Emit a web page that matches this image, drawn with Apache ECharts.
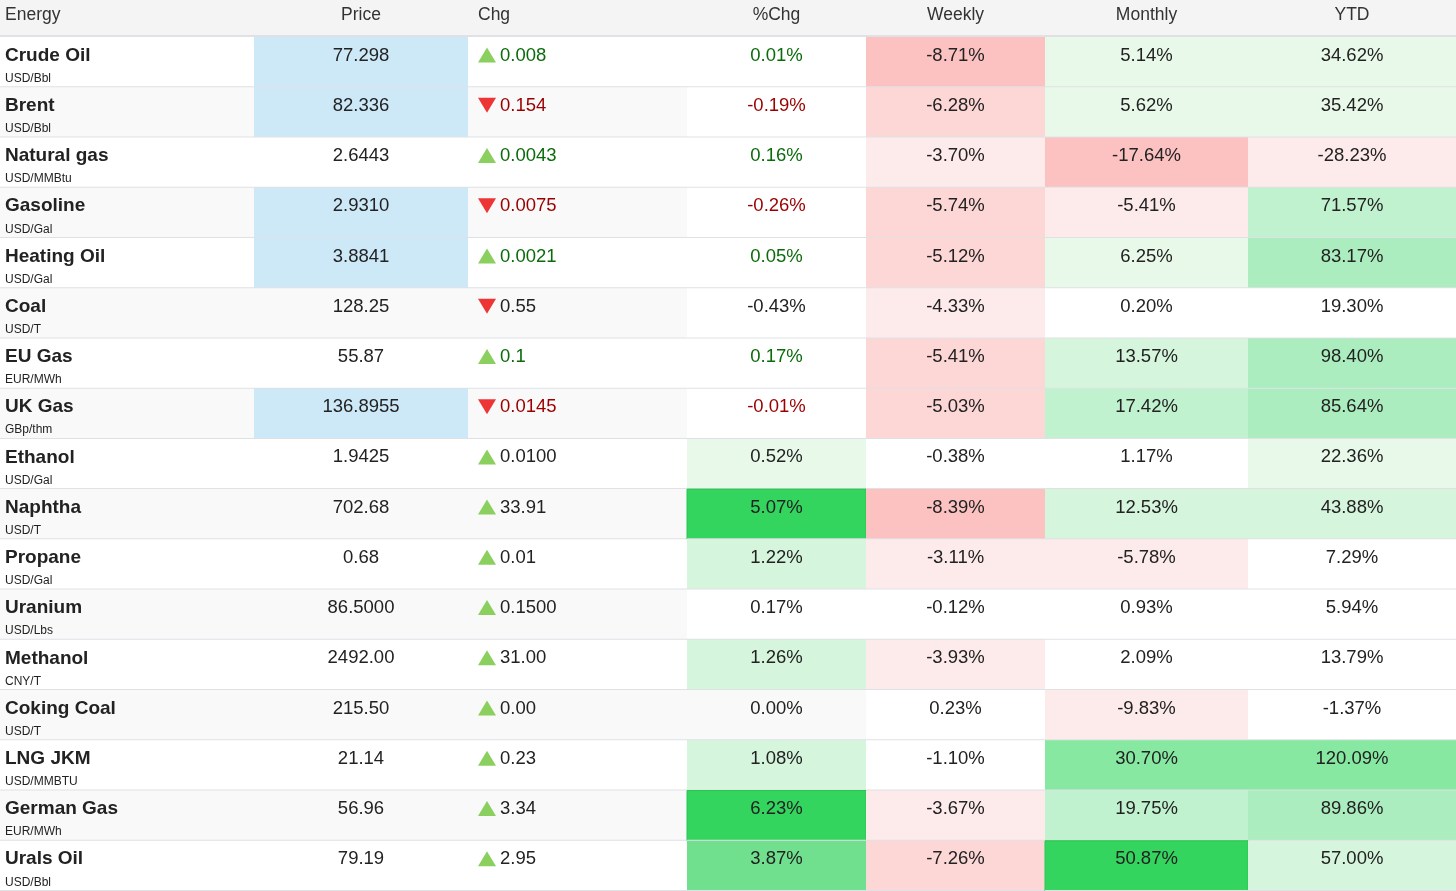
<!DOCTYPE html>
<html>
<head>
<meta charset="utf-8">
<title>Energy</title>
<script src="https://cdn.jsdelivr.net/npm/echarts@6/dist/echarts.min.js"></script>
<style>
  html, body { margin: 0; padding: 0; background: #fff; overflow: hidden; }
  #main { width: 1456px; height: 891px; }
</style>
</head>
<body>
<div id="main"></div>
<script>
// table data
var headers = ['Energy', 'Price', 'Chg', '%Chg', 'Weekly', 'Monthly', 'YTD'];
var names = ['Crude Oil', 'Brent', 'Natural gas', 'Gasoline', 'Heating Oil', 'Coal', 'EU Gas', 'UK Gas',
  'Ethanol', 'Naphtha', 'Propane', 'Uranium', 'Methanol', 'Coking Coal', 'LNG JKM', 'German Gas', 'Urals Oil'];
var units = ['USD/Bbl', 'USD/Bbl', 'USD/MMBtu', 'USD/Gal', 'USD/Gal', 'USD/T', 'EUR/MWh', 'GBp/thm',
  'USD/Gal', 'USD/T', 'USD/Gal', 'USD/Lbs', 'CNY/T', 'USD/T', 'USD/MMBTU', 'EUR/MWh', 'USD/Bbl'];
var prices = ['77.298', '82.336', '2.6443', '2.9310', '3.8841', '128.25', '55.87', '136.8955',
  '1.9425', '702.68', '0.68', '86.5000', '2492.00', '215.50', '21.14', '56.96', '79.19'];
var changes = ['0.008', '-0.154', '0.0043', '-0.0075', '0.0021', '-0.55', '0.1', '-0.0145',
  '0.0100', '33.91', '0.01', '0.1500', '31.00', '0.00', '0.23', '3.34', '2.95'];
var pctChg = [0.01, -0.19, 0.16, -0.26, 0.05, -0.43, 0.17, -0.01,
  0.52, 5.07, 1.22, 0.17, 1.26, 0.00, 1.08, 6.23, 3.87];
var weekly = [-8.71, -6.28, -3.70, -5.74, -5.12, -4.33, -5.41, -5.03,
  -0.38, -8.39, -3.11, -0.12, -3.93, 0.23, -1.10, -3.67, -7.26];
var monthly = [5.14, 5.62, -17.64, -5.41, 6.25, 0.20, 13.57, 17.42,
  1.17, 12.53, -5.78, 0.93, 2.09, -9.83, 30.70, 19.75, 50.87];
var ytd = [34.62, 35.42, -28.23, 71.57, 83.17, 19.30, 98.40, 85.64,
  22.36, 43.88, 7.29, 5.94, 13.79, -1.37, 120.09, 89.86, 57.00];

// heat level of each cell as shown (null = no fill)
var pctHeat = [0, 0, 0, 0, 0, 0, 0, 0, 1, 7, 2, 0, 2, null, 2, 7, 6];
var weeklyHeat = [-3, -2, -1, -2, -2, -1, -2, -2, 0, -3, -1, 0, -1, 0, 0, -1, -2];
var monthlyHeat = [1, 1, -3, -1, 1, 0, 2, 3, 0, 2, -1, 0, 0, -1, 5, 3, 7];
var ytdHeat = [1, 1, -1, 3, 4, 0, 4, 4, 1, 2, 0, 0, 0, 0, 5, 4, 2];

// rows with a fresh tick (blue price) and rows with coloured change text
var priceTick = [1, 1, 0, 1, 1, 0, 0, 1, 0, 0, 0, 0, 0, 0, 0, 0, 0];
var liveRow = [1, 1, 1, 1, 1, 0, 1, 1, 0, 0, 0, 0, 0, 0, 0, 0, 0];

// layout
var colEdges = [0, 254, 468, 687, 866, 1045, 1248, 1456];
var headerH = 37;
var FONT = '"Liberation Sans", Arial, Helvetica, sans-serif';

var heatColors = {
  '-3': '#fcc2c2', '-2': '#fdd6d6', '-1': '#fdeaea', '0': '#ffffff',
  '1': '#e8f9ea', '2': '#d6f5dd', '3': '#c1f2cf', '4': '#abedbf',
  '5': '#87e8a2', '6': '#70e08e', '7': '#33d55e'
};
var UP_TEXT = '#0b6b0b', DOWN_TEXT = '#9b0000';
var UP_TRI = '#8bd05f', DOWN_TRI = '#ee3535';

var heatCols = { 3: [pctChg, pctHeat], 4: [weekly, weeklyHeat], 5: [monthly, monthlyHeat], 6: [ytd, ytdHeat] };

var cells = [];
for (var r = 0; r < names.length; r++) {
  for (var c = 0; c < headers.length; c++) cells.push([c, r]);
}

function renderCell(params, api) {
  var c = api.value(0), r = api.value(1);
  var left = api.coord([colEdges[c], r]);
  var right = api.coord([colEdges[c + 1], r]);
  var bandH = api.size([0, 1])[1];
  var x0 = left[0], x1 = right[0], w = x1 - x0;
  var top = left[1] - bandH / 2;
  var ty = top + 18.5;
  var stripe = r % 2 === 1 ? '#f9f9f9' : '#ffffff';
  var fill = stripe, stroke = null;
  var kids = [];
  var txt = '#222';

  if (c === 1 && priceTick[r]) fill = '#cde9f8';
  if (heatCols[c]) {
    var lvl = heatCols[c][1][r];
    if (lvl !== null) fill = heatColors[String(lvl)];
    if (lvl === 7) stroke = '#2bc452';
  }
  kids.push({ type: 'rect', shape: { x: x0, y: top, width: w, height: bandH },
    style: { fill: fill, stroke: stroke, lineWidth: stroke ? 1 : 0 } });

  if (c === 0) {
    kids.push({ type: 'text', style: { x: x0 + 5, y: ty, text: names[r], fill: '#222',
      font: 'bold 19px ' + FONT, align: 'left', verticalAlign: 'middle' } });
    kids.push({ type: 'text', style: { x: x0 + 5, y: top + 41.5, text: units[r], fill: '#222',
      font: '12px ' + FONT, align: 'left', verticalAlign: 'middle' } });
  } else if (c === 1) {
    kids.push({ type: 'text', style: { x: (x0 + x1) / 2, y: ty, text: prices[r], fill: txt,
      font: '18.5px ' + FONT, align: 'center', verticalAlign: 'middle' } });
  } else if (c === 2) {
    var s = changes[r];
    var down = s.charAt(0) === '-';
    var tx = x0 + 10;
    var pts = down
      ? [[tx, ty - 8], [tx + 18, ty - 8], [tx + 9, ty + 7]]
      : [[tx, ty + 7], [tx + 18, ty + 7], [tx + 9, ty - 8]];
    kids.push({ type: 'polygon', shape: { points: pts }, style: { fill: down ? DOWN_TRI : UP_TRI } });
    var col = liveRow[r] ? (down ? DOWN_TEXT : UP_TEXT) : txt;
    kids.push({ type: 'text', style: { x: tx + 22, y: ty, text: down ? s.slice(1) : s, fill: col,
      font: '18.5px ' + FONT, align: 'left', verticalAlign: 'middle' } });
  } else {
    var v = heatCols[c][0][r];
    var vc = txt;
    if (c === 3 && liveRow[r]) vc = v < 0 ? DOWN_TEXT : UP_TEXT;
    kids.push({ type: 'text', style: { x: (x0 + x1) / 2, y: ty, text: v.toFixed(2) + '%', fill: vc,
      font: '18.5px ' + FONT, align: 'center', verticalAlign: 'middle' } });
  }
  // row rule
  kids.push({ type: 'rect', shape: { x: x0, y: top + bandH - 1, width: w, height: 2 },
    style: { fill: '#dfe1e5' } });
  return { type: 'group', children: kids };
}

var headerGraphics = [
  { type: 'rect', left: 0, top: 0, shape: { width: 1456, height: headerH - 1 }, style: { fill: '#f4f4f4' } },
  { type: 'rect', left: 0, top: headerH - 2, shape: { width: 1456, height: 2 }, style: { fill: '#dfe1e5' } }
];
headers.forEach(function (h, i) {
  var alignLeft = i === 0 || i === 2;
  var x = i === 0 ? 5 : (i === 2 ? colEdges[2] + 10 : (colEdges[i] + colEdges[i + 1]) / 2);
  headerGraphics.push({
    type: 'text', x: x, y: 15,
    style: { text: h, fill: '#333', font: '17.5px ' + FONT,
      align: alignLeft ? 'left' : 'center', verticalAlign: 'middle' }
  });
});

var chart = echarts.init(document.getElementById('main'));
chart.setOption({
  animation: false,
  grid: { left: 0, top: headerH, width: 1456, height: 856 },
  xAxis: { type: 'value', min: 0, max: 1456, show: false },
  yAxis: { type: 'category', data: names, inverse: true, show: false },
  graphic: headerGraphics,
  series: [{
    type: 'custom',
    renderItem: renderCell,
    encode: { x: 0, y: 1 },
    data: cells,
    clip: false
  }]
});
</script>
</body>
</html>
